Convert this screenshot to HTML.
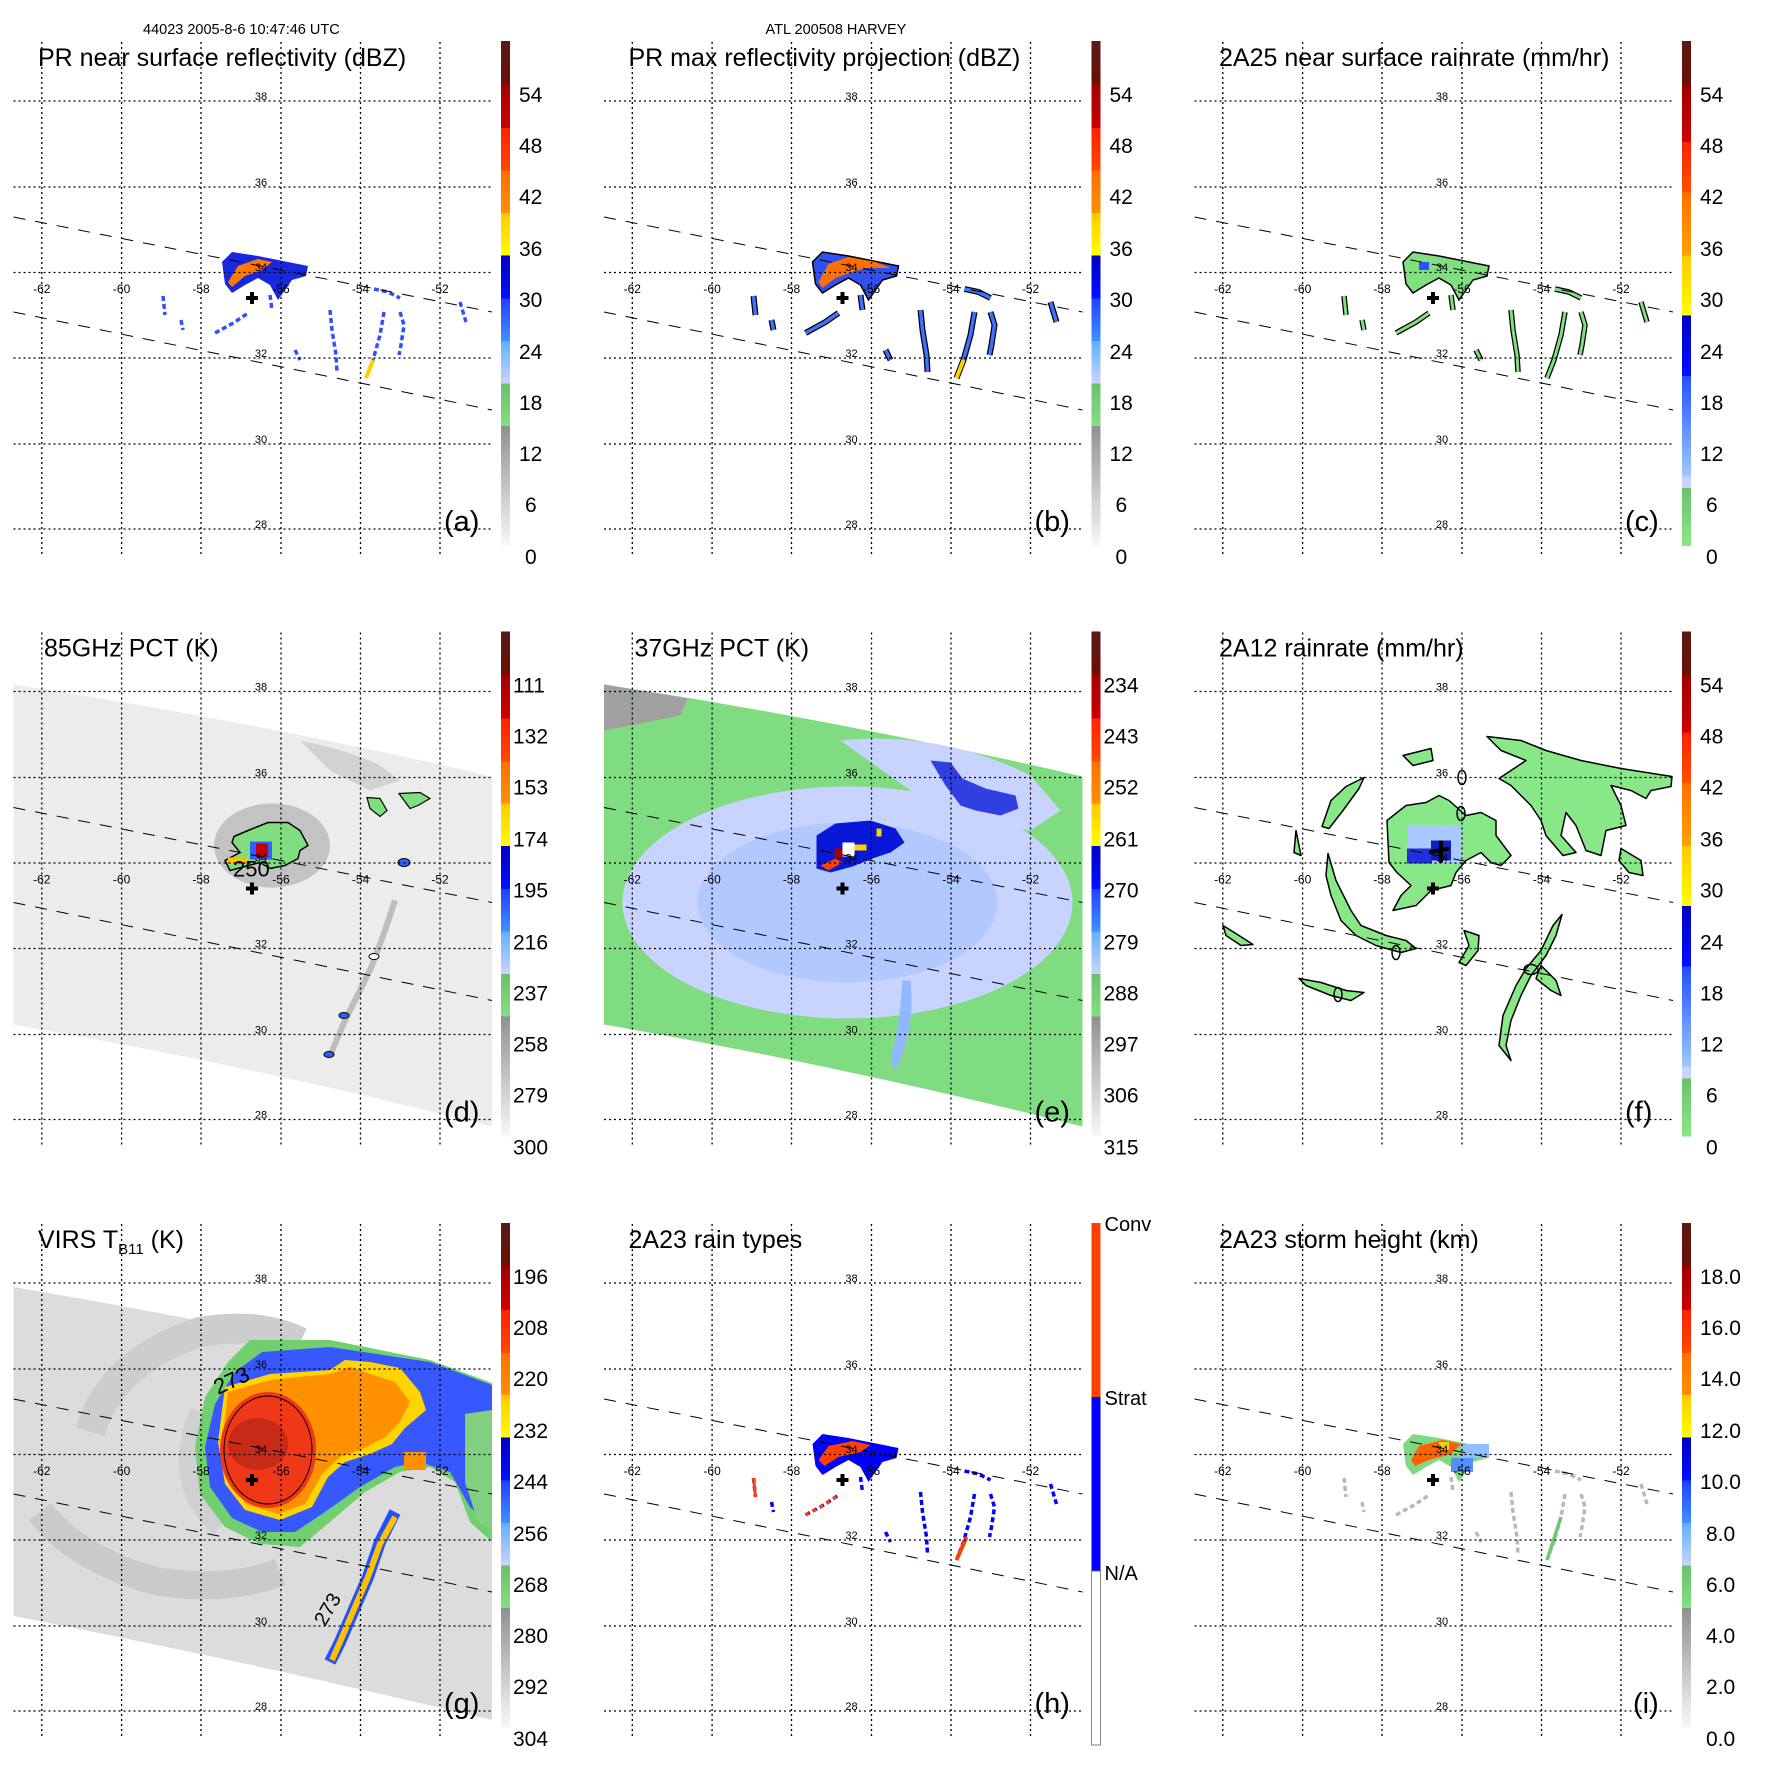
<!DOCTYPE html>
<html><head><meta charset="utf-8"><style>
html,body{margin:0;padding:0;background:#fff}
svg{display:block}
text{font-family:"Liberation Sans",Arial,sans-serif;fill:#000}
.t{font-size:25px}.c{font-size:14.5px}.cb{font-size:21px}.lt{font-size:11px;text-anchor:middle}.ln{font-size:12px;text-anchor:middle}.pl{font-size:29px}
</style></head><body>
<svg width="1771" height="1771" viewBox="0 0 1771 1771" xmlns="http://www.w3.org/2000/svg">
<defs>
<linearGradient id="gA" x1="0" y1="0" x2="0" y2="1">
<stop offset="0" stop-color="#5a1a14"/><stop offset="0.084" stop-color="#6b0f05"/>
<stop offset="0.084" stop-color="#a00000"/><stop offset="0.172" stop-color="#cc0000"/>
<stop offset="0.172" stop-color="#ff2000"/><stop offset="0.257" stop-color="#ff4800"/>
<stop offset="0.257" stop-color="#ff7000"/><stop offset="0.341" stop-color="#ff9000"/>
<stop offset="0.341" stop-color="#ffc800"/><stop offset="0.425" stop-color="#ffff00"/>
<stop offset="0.425" stop-color="#0000c0"/><stop offset="0.51" stop-color="#0010ff"/>
<stop offset="0.51" stop-color="#2040ff"/><stop offset="0.594" stop-color="#4090ff"/>
<stop offset="0.594" stop-color="#60b0ff"/><stop offset="0.678" stop-color="#c8d4ff"/>
<stop offset="0.678" stop-color="#6cc06c"/><stop offset="0.762" stop-color="#80e080"/>
<stop offset="0.762" stop-color="#909090"/><stop offset="1" stop-color="#f8f8f8"/>
</linearGradient>
<linearGradient id="gC" x1="0" y1="0" x2="0" y2="1">
<stop offset="0" stop-color="#5a1a14"/><stop offset="0.088" stop-color="#6b0f05"/>
<stop offset="0.088" stop-color="#a00000"/><stop offset="0.2" stop-color="#d00000"/>
<stop offset="0.2" stop-color="#ff2000"/><stop offset="0.3" stop-color="#ff5000"/>
<stop offset="0.3" stop-color="#ff7000"/><stop offset="0.425" stop-color="#ffa000"/>
<stop offset="0.425" stop-color="#ffc800"/><stop offset="0.544" stop-color="#ffff00"/>
<stop offset="0.544" stop-color="#0000c0"/><stop offset="0.663" stop-color="#0010ff"/>
<stop offset="0.663" stop-color="#2050ff"/><stop offset="0.862" stop-color="#a0c8ff"/>
<stop offset="0.862" stop-color="#c8d4ff"/><stop offset="0.885" stop-color="#c8d4ff"/>
<stop offset="0.885" stop-color="#6cc06c"/><stop offset="1" stop-color="#88e888"/>
</linearGradient>
<g id="grid" fill="none" stroke="#000" stroke-width="1.3" stroke-dasharray="2,3">
<path d="M41.8 42V554M121.6 42V554M201 42V554M281 42V554M360.5 42V554M440 42V554"/>
<path d="M13.5 101H492M13.5 187H492M13.5 272.5H492M13.5 358H492M13.5 444H492M13.5 529H492"/>
</g>
<g id="swl" fill="none" stroke="#000" stroke-width="1" stroke-dasharray="12,10">
<path d="M13.5 217L492 312M13.5 312L492 410"/>
</g>
<g id="plus"><path d="M246 298H258M252 292V304" stroke="#000" stroke-width="4"/></g>
<polygon id="prStorm" points="222,262 232,252 258,256 308,266 306,276 292,280 285,290 278,300 270,285 258,278 245,285 232,293 225,284"/>
<g id="prLines">
<polyline points="330,310 332,330 336,355 337,372"/>
<polyline points="384,312 380,335 373,360 366,378"/>
<polyline points="400,312 404,325 401,345 399,355"/>
<polyline points="374,289 388,292 400,298"/>
<polyline points="163,296 165,315"/>
<polyline points="181,320 183,330"/>
<polyline points="215,333 235,322 248,313"/>
<polyline points="295,350 300,360"/>
<polyline points="460,302 466,322"/>
<polyline points="270,295 272,310"/>
</g>
</defs>

<!-- ============ (a) ============ -->
<g transform="translate(0,0)">
<use href="#prLines" fill="none" stroke="#3050ff" stroke-width="3.5" stroke-dasharray="5,3"/>
<use href="#prStorm" fill="#1828e0"/>
<polygon points="228,282 238,266 258,259 272,262 262,270 245,276 232,287" fill="#ff7a00"/>
<polyline points="366,378 373,360" stroke="#ffd000" stroke-width="4"/>
<use href="#swl"/><use href="#grid"/><use href="#plus"/>
<text class="c" x="143" y="34">44023 2005-8-6 10:47:46 UTC</text>
<text class="t" x="38" y="66">PR near surface reflectivity (dBZ)</text>
<rect x="501" y="41" width="9" height="505" fill="url(#gA)"/>
<g class="cb"><text x="519" y="102">54</text><text x="519" y="153">48</text><text x="519" y="204">42</text><text x="519" y="256">36</text><text x="519" y="307">30</text><text x="519" y="359">24</text><text x="519" y="410">18</text><text x="519" y="461">12</text><text x="525" y="512">6</text><text x="525" y="564">0</text></g>
<text class="pl" x="444" y="531">(a)</text>
<g><text class="lt" x="261" y="100">38</text><text class="lt" x="261" y="186">36</text><text class="lt" x="261" y="271">34</text><text class="lt" x="261" y="357">32</text><text class="lt" x="261" y="443">30</text><text class="lt" x="261" y="528">28</text>
<text class="ln" x="41.8" y="293">-62</text><text class="ln" x="121.6" y="293">-60</text><text class="ln" x="201" y="293">-58</text><text class="ln" x="281" y="293">-56</text><text class="ln" x="360.5" y="293">-54</text><text class="ln" x="440" y="293">-52</text></g>
</g>

<!-- ============ (b) ============ -->
<g transform="translate(590.5,0)">
<use href="#prLines" fill="none" stroke="#000" stroke-width="6"/>
<use href="#prLines" fill="none" stroke="#4070ff" stroke-width="3.5"/>
<use href="#prStorm" fill="#3050f0" stroke="#000" stroke-width="1.5"/>
<polygon points="228,282 238,264 258,257 285,262 300,268 275,268 262,272 245,278 232,288" fill="#ff7000"/>
<polyline points="366,378 373,360" stroke="#ffd000" stroke-width="4"/>
<use href="#swl"/><use href="#grid"/><use href="#plus"/>
<text class="c" x="175" y="34">ATL 200508 HARVEY</text>
<text class="t" x="38" y="66">PR max reflectivity projection (dBZ)</text>
<rect x="501" y="41" width="9" height="505" fill="url(#gA)"/>
<g class="cb"><text x="519" y="102">54</text><text x="519" y="153">48</text><text x="519" y="204">42</text><text x="519" y="256">36</text><text x="519" y="307">30</text><text x="519" y="359">24</text><text x="519" y="410">18</text><text x="519" y="461">12</text><text x="525" y="512">6</text><text x="525" y="564">0</text></g>
<text class="pl" x="444" y="531">(b)</text>
<g><text class="lt" x="261" y="100">38</text><text class="lt" x="261" y="186">36</text><text class="lt" x="261" y="271">34</text><text class="lt" x="261" y="357">32</text><text class="lt" x="261" y="443">30</text><text class="lt" x="261" y="528">28</text>
<text class="ln" x="41.8" y="293">-62</text><text class="ln" x="121.6" y="293">-60</text><text class="ln" x="201" y="293">-58</text><text class="ln" x="281" y="293">-56</text><text class="ln" x="360.5" y="293">-54</text><text class="ln" x="440" y="293">-52</text></g>
</g>

<!-- ============ (c) ============ -->
<g transform="translate(1181,0)">
<use href="#prLines" fill="none" stroke="#000" stroke-width="5.5"/>
<use href="#prLines" fill="none" stroke="#80e080" stroke-width="3"/>
<use href="#prStorm" fill="#80e080" stroke="#000" stroke-width="1.5"/>
<rect x="238" y="262" width="10" height="8" fill="#3050ff"/>
<use href="#swl"/><use href="#grid"/><use href="#plus"/>
<text class="t" x="38" y="66">2A25 near surface rainrate (mm/hr)</text>
<rect x="501" y="41" width="9" height="505" fill="url(#gC)"/>
<g class="cb"><text x="519" y="102">54</text><text x="519" y="153">48</text><text x="519" y="204">42</text><text x="519" y="256">36</text><text x="519" y="307">30</text><text x="519" y="359">24</text><text x="519" y="410">18</text><text x="519" y="461">12</text><text x="525" y="512">6</text><text x="525" y="564">0</text></g>
<text class="pl" x="444" y="531">(c)</text>
<g><text class="lt" x="261" y="100">38</text><text class="lt" x="261" y="186">36</text><text class="lt" x="261" y="271">34</text><text class="lt" x="261" y="357">32</text><text class="lt" x="261" y="443">30</text><text class="lt" x="261" y="528">28</text>
<text class="ln" x="41.8" y="293">-62</text><text class="ln" x="121.6" y="293">-60</text><text class="ln" x="201" y="293">-58</text><text class="ln" x="281" y="293">-56</text><text class="ln" x="360.5" y="293">-54</text><text class="ln" x="440" y="293">-52</text></g>
</g>

<!-- ============ (d) ============ -->
<g transform="translate(0,590.5)">
<path d="M13.5 94Q250 130 492 186V536Q250 475 13.5 434Z" fill="#ececec"/>
<path d="M300 150Q350 160 380 175 L400 190 L370 200 L330 180Z" fill="#c8c8c8" opacity="0.7"/>
<polyline points="395,310 385,340 372,375 360,400 345,430 330,465" fill="none" stroke="#bdbdbd" stroke-width="6"/>
<ellipse cx="272" cy="255" rx="58" ry="42" fill="#a8a8a8" opacity="0.6"/>
<polygon points="234,246 248,240 268,232 288,232 300,240 308,255 300,260 298,268 285,275 270,278 260,272 245,276 230,280 225,270 240,262 232,252" fill="#80dd80" stroke="#000" stroke-width="1.5"/>
<rect x="250" y="251" width="22" height="18" fill="#3060ff"/>
<rect x="256" y="253" width="12" height="14" fill="#c00000"/>
<rect x="228" y="267" width="20" height="6" fill="#ffc000"/>
<polygon points="367,207 380,208 387,220 380,226 370,218" fill="#80dd80" stroke="#000" stroke-width="1.2"/>
<polygon points="399,203 420,202 430,208 418,215 410,218" fill="#80dd80" stroke="#000" stroke-width="1.2"/>
<ellipse cx="404" cy="272" rx="6" ry="4" fill="#3060ff" stroke="#000"/>
<ellipse cx="344" cy="425" rx="5" ry="3" fill="#3060ff" stroke="#000"/>
<ellipse cx="374" cy="366" rx="5" ry="3" fill="#fff" stroke="#000"/>
<ellipse cx="329" cy="464" rx="5" ry="3" fill="#3060ff" stroke="#000"/>
<text x="233" y="286" style="font-size:22px">250</text>
<use href="#swl"/><use href="#grid"/><use href="#plus"/>
<text class="t" x="44" y="66">85GHz PCT (K)</text>
<rect x="501" y="41" width="9" height="505" fill="url(#gA)"/>
<g class="cb"><text x="513" y="102">111</text><text x="513" y="153">132</text><text x="513" y="204">153</text><text x="513" y="256">174</text><text x="513" y="307">195</text><text x="513" y="359">216</text><text x="513" y="410">237</text><text x="513" y="461">258</text><text x="513" y="512">279</text><text x="513" y="564">300</text></g>
<text class="pl" x="444" y="531">(d)</text>
<g><text class="lt" x="261" y="100">38</text><text class="lt" x="261" y="186">36</text><text class="lt" x="261" y="271">34</text><text class="lt" x="261" y="357">32</text><text class="lt" x="261" y="443">30</text><text class="lt" x="261" y="528">28</text>
<text class="ln" x="41.8" y="293">-62</text><text class="ln" x="121.6" y="293">-60</text><text class="ln" x="201" y="293">-58</text><text class="ln" x="281" y="293">-56</text><text class="ln" x="360.5" y="293">-54</text><text class="ln" x="440" y="293">-52</text></g>
</g>

<!-- ============ (e) ============ -->
<g transform="translate(590.5,590.5)">
<path d="M13.5 94Q250 130 492 186V536Q250 475 13.5 434Z" fill="#80dc80"/>
<path d="M13.5 94L97 108L90 125L40 135L13.5 140Z" fill="#a0a0a0"/>
<ellipse cx="257" cy="312" rx="225" ry="116" fill="#c8d4ff"/>
<path d="M250 150Q350 140 440 185L470 220L440 240L380 230L320 200Z" fill="#c8d4ff"/>
<ellipse cx="257" cy="312" rx="150" ry="80" fill="#a8c4ff" opacity="0.7"/>
<path d="M320 390Q325 440 305 480L300 470Q310 430 312 390Z" fill="#90b8ff"/>
<polygon points="226,245 245,233 280,230 305,238 314,252 300,262 282,268 262,276 240,282 226,278" fill="#0818d8"/>
<polygon points="340,170 360,172 372,188 395,198 425,205 428,218 410,225 385,220 370,215 355,195" fill="#3040e0"/>
<rect x="252" y="252" width="12" height="14" fill="#ffffff"/>
<rect x="244" y="258" width="8" height="10" fill="#a00000"/>
<rect x="264" y="254" width="12" height="6" fill="#ffd000"/>
<polygon points="230,275 245,268 252,272 238,280" fill="#ff4000"/>
<rect x="286" y="238" width="5" height="8" fill="#ffd000"/>
<use href="#swl"/><use href="#grid"/><use href="#plus"/>
<text class="t" x="44" y="66">37GHz PCT (K)</text>
<rect x="501" y="41" width="9" height="505" fill="url(#gA)"/>
<g class="cb"><text x="513" y="102">234</text><text x="513" y="153">243</text><text x="513" y="204">252</text><text x="513" y="256">261</text><text x="513" y="307">270</text><text x="513" y="359">279</text><text x="513" y="410">288</text><text x="513" y="461">297</text><text x="513" y="512">306</text><text x="513" y="564">315</text></g>
<text class="pl" x="444" y="531">(e)</text>
<g><text class="lt" x="261" y="100">38</text><text class="lt" x="261" y="186">36</text><text class="lt" x="261" y="271">34</text><text class="lt" x="261" y="357">32</text><text class="lt" x="261" y="443">30</text><text class="lt" x="261" y="528">28</text>
<text class="ln" x="41.8" y="293">-62</text><text class="ln" x="121.6" y="293">-60</text><text class="ln" x="201" y="293">-58</text><text class="ln" x="281" y="293">-56</text><text class="ln" x="360.5" y="293">-54</text><text class="ln" x="440" y="293">-52</text></g>
</g>

<!-- ============ (f) ============ -->
<g transform="translate(1181,590.5)">
<g fill="#88e888" stroke="#000" stroke-width="1.5" stroke-linejoin="round">
<path d="M306 146L340 150L365 160L400 170L440 178L491 186L490 196L470 200L465 208L450 200L430 195L440 215L445 235L425 240L420 265L405 260L395 235L385 222L380 245L395 262L382 265L365 245L360 230L350 215L330 195L318 188L330 180L345 170L320 160Z"/>
<path d="M206 230L225 215L245 212L258 205L268 210L285 225L300 222L315 230L315 245L330 265L320 275L310 272L300 262L285 270L275 282L270 295L250 300L235 315L212 320L220 305L230 295L216 282L208 272Z"/>
<path d="M147 263L155 290L170 320L180 335L205 345L225 350L235 358L220 362L195 355L175 345L160 330L150 305L145 285Z"/>
<path d="M141 236L150 210L165 196L183 187L178 198L162 220L148 238Z"/>
<path d="M118 388L140 392L165 400L183 402L170 410L150 405L125 395Z"/>
<path d="M381 324L375 345L365 365L350 385L340 405L330 430L325 455L330 470L318 455L322 425L335 395L345 378L360 360L372 335Z"/>
<path d="M360 375L375 390L380 405L370 400L355 388Z"/>
<path d="M42 335L58 345L72 354L60 355L45 345Z"/>
<path d="M222 165L250 158L252 170L232 175Z"/>
<path d="M283 340L298 345L297 360L285 375L278 372L288 355Z"/>
<path d="M115 240L120 265L113 262Z"/>
<path d="M440 258L460 270L462 285L448 282L438 270Z"/>
</g>
<rect x="226" y="235" width="55" height="38" fill="#a8c8ff"/>
<rect x="226" y="258" width="25" height="15" fill="#2030e0"/>
<rect x="250" y="250" width="20" height="20" fill="#1020c0"/>
<path d="M248 262L268 258M260 250V272" stroke="#000" stroke-width="4"/>
<ellipse cx="281" cy="187" rx="4" ry="7" fill="none" stroke="#000" stroke-width="1.5"/>
<ellipse cx="280" cy="223" rx="4" ry="7" fill="none" stroke="#000" stroke-width="1.5"/>
<ellipse cx="215" cy="362" rx="4" ry="7" fill="none" stroke="#000" stroke-width="1.5"/>
<ellipse cx="157" cy="404" rx="4" ry="7" fill="none" stroke="#000" stroke-width="1.5"/>
<ellipse cx="350" cy="379" rx="7" ry="5" fill="none" stroke="#000" stroke-width="1.5"/>
<use href="#swl"/><use href="#grid"/><use href="#plus"/>
<text class="t" x="38" y="66">2A12 rainrate (mm/hr)</text>
<rect x="501" y="41" width="9" height="505" fill="url(#gC)"/>
<g class="cb"><text x="519" y="102">54</text><text x="519" y="153">48</text><text x="519" y="204">42</text><text x="519" y="256">36</text><text x="519" y="307">30</text><text x="519" y="359">24</text><text x="519" y="410">18</text><text x="519" y="461">12</text><text x="525" y="512">6</text><text x="525" y="564">0</text></g>
<text class="pl" x="444" y="531">(f)</text>
<g><text class="lt" x="261" y="100">38</text><text class="lt" x="261" y="186">36</text><text class="lt" x="261" y="271">34</text><text class="lt" x="261" y="357">32</text><text class="lt" x="261" y="443">30</text><text class="lt" x="261" y="528">28</text>
<text class="ln" x="41.8" y="293">-62</text><text class="ln" x="121.6" y="293">-60</text><text class="ln" x="201" y="293">-58</text><text class="ln" x="281" y="293">-56</text><text class="ln" x="360.5" y="293">-54</text><text class="ln" x="440" y="293">-52</text></g>
</g>

<!-- ============ (g) ============ -->
<g transform="translate(0,1182)">
<path d="M13.5 105Q250 145 492 201V538Q250 480 13.5 434Z" fill="#dcdcdc"/>
<path d="M90 250Q110 180 200 150Q260 140 300 160" fill="none" stroke="#cdcdcd" stroke-width="30"/>
<path d="M40 330Q80 380 160 400Q230 410 280 390" fill="none" stroke="#cacaca" stroke-width="28"/>
<path d="M200 230Q170 300 220 345" fill="none" stroke="#d0d0d0" stroke-width="20"/>
<polygon points="250,158 330,158 430,178 492,201 492,360 470,340 455,300 430,285 400,290 365,310 330,340 300,365 260,362 225,345 200,312 195,265 205,215 228,180" fill="#70d070"/>
<polygon points="262,170 330,165 430,180 492,203 492,345 470,325 450,290 420,280 395,285 360,305 325,330 295,350 262,350 232,336 210,305 205,265 215,222 235,190" fill="#3858ff"/>
<polygon points="465,232 492,228 492,348 478,340 465,300" fill="#80d080"/>
<polygon points="225,205 270,192 330,188 345,178 370,180 400,186 420,210 426,228 405,246 392,262 370,272 345,280 328,295 312,325 280,338 245,328 225,302 218,260" fill="#ffd400"/>
<polygon points="228,210 270,198 330,192 350,185 370,192 395,200 410,220 400,240 385,255 360,268 340,275 322,292 305,322 278,332 246,322 228,298 222,260" fill="#ff9000"/>
<ellipse cx="268" cy="268" rx="48" ry="58" fill="#f03818"/>
<ellipse cx="258" cy="262" rx="30" ry="26" fill="#c82a18"/>
<ellipse cx="268" cy="268" rx="44" ry="54" fill="none" stroke="#000" stroke-width="1"/>
<polyline points="395,330 380,360 368,395 355,425 340,460 330,480" fill="none" stroke="#2050ff" stroke-width="12"/>
<polyline points="395,335 380,362 368,395 355,425 340,460 332,478" fill="none" stroke="#ffc000" stroke-width="6"/>
<rect x="404" y="270" width="22" height="18" fill="#ff9000"/>
<text x="218" y="213" style="font-size:22px" transform="rotate(-25 218 213)">273</text>
<text x="325" y="445" style="font-size:20px" transform="rotate(-60 325 445)">273</text>
<use href="#swl"/><use href="#grid"/><use href="#plus"/>
<text class="t" x="38" y="66">VIRS T<tspan style="font-size:15px" dy="6">B11</tspan><tspan dy="-6"> (K)</tspan></text>
<rect x="501" y="41" width="9" height="505" fill="url(#gA)"/>
<g class="cb"><text x="513" y="102">196</text><text x="513" y="153">208</text><text x="513" y="204">220</text><text x="513" y="256">232</text><text x="513" y="307">244</text><text x="513" y="359">256</text><text x="513" y="410">268</text><text x="513" y="461">280</text><text x="513" y="512">292</text><text x="513" y="564">304</text></g>
<text class="pl" x="444" y="531">(g)</text>
<g><text class="lt" x="261" y="100">38</text><text class="lt" x="261" y="186">36</text><text class="lt" x="261" y="271">34</text><text class="lt" x="261" y="357">32</text><text class="lt" x="261" y="443">30</text><text class="lt" x="261" y="528">28</text>
<text class="ln" x="41.8" y="293">-62</text><text class="ln" x="121.6" y="293">-60</text><text class="ln" x="201" y="293">-58</text><text class="ln" x="281" y="293">-56</text><text class="ln" x="360.5" y="293">-54</text><text class="ln" x="440" y="293">-52</text></g>
</g>

<!-- ============ (h) ============ -->
<g transform="translate(590.5,1182)">
<use href="#prLines" fill="none" stroke="#0000ff" stroke-width="3.5" stroke-dasharray="5,3"/>
<polyline points="215,333 235,322 248,313" fill="none" stroke="#ff4000" stroke-width="3" stroke-dasharray="4,4"/>
<polyline points="163,296 165,315" fill="none" stroke="#ff4000" stroke-width="3"/>
<use href="#prStorm" fill="#0000ff"/>
<polygon points="228,278 238,264 262,259 280,263 270,270 248,275 234,284" fill="#ff4000"/>
<polyline points="366,378 376,355" stroke="#ff4000" stroke-width="4"/>
<use href="#swl"/><use href="#grid"/><use href="#plus"/>
<text class="t" x="38" y="66">2A23 rain types</text>
<rect x="501" y="41" width="9" height="174" fill="#ff4000"/>
<rect x="501" y="215" width="9" height="174" fill="#0000ff"/>
<rect x="501" y="389" width="9" height="174" fill="#fff" stroke="#666" stroke-width="0.8"/>
<g style="font-size:20px"><text x="514" y="49">Conv</text><text x="514" y="223">Strat</text><text x="514" y="398">N/A</text></g>
<text class="pl" x="444" y="531">(h)</text>
<g><text class="lt" x="261" y="100">38</text><text class="lt" x="261" y="186">36</text><text class="lt" x="261" y="271">34</text><text class="lt" x="261" y="357">32</text><text class="lt" x="261" y="443">30</text><text class="lt" x="261" y="528">28</text>
<text class="ln" x="41.8" y="293">-62</text><text class="ln" x="121.6" y="293">-60</text><text class="ln" x="201" y="293">-58</text><text class="ln" x="281" y="293">-56</text><text class="ln" x="360.5" y="293">-54</text><text class="ln" x="440" y="293">-52</text></g>
</g>

<!-- ============ (i) ============ -->
<g transform="translate(1181,1182)">
<use href="#prLines" fill="none" stroke="#b8b8b8" stroke-width="3.5" stroke-dasharray="5,3"/>
<polyline points="366,378 380,335" fill="none" stroke="#70c870" stroke-width="3.5"/>
<use href="#prStorm" fill="#80d880"/>
<rect x="280" y="262" width="28" height="14" fill="#90c0ff"/>
<rect x="270" y="276" width="22" height="14" fill="#5090ff"/>
<polygon points="230,278 238,264 262,258 280,262 270,272 248,278 234,284" fill="#ff6000"/>
<rect x="258" y="260" width="10" height="8" fill="#ffd000"/>
<use href="#swl"/><use href="#grid"/><use href="#plus"/>
<text class="t" x="38" y="66">2A23 storm height (km)</text>
<rect x="501" y="41" width="9" height="505" fill="url(#gA)"/>
<g class="cb"><text x="519" y="102">18.0</text><text x="519" y="153">16.0</text><text x="519" y="204">14.0</text><text x="519" y="256">12.0</text><text x="519" y="307">10.0</text><text x="525" y="359">8.0</text><text x="525" y="410">6.0</text><text x="525" y="461">4.0</text><text x="525" y="512">2.0</text><text x="525" y="564">0.0</text></g>
<text class="pl" x="452" y="531">(i)</text>
<g><text class="lt" x="261" y="100">38</text><text class="lt" x="261" y="186">36</text><text class="lt" x="261" y="271">34</text><text class="lt" x="261" y="357">32</text><text class="lt" x="261" y="443">30</text><text class="lt" x="261" y="528">28</text>
<text class="ln" x="41.8" y="293">-62</text><text class="ln" x="121.6" y="293">-60</text><text class="ln" x="201" y="293">-58</text><text class="ln" x="281" y="293">-56</text><text class="ln" x="360.5" y="293">-54</text><text class="ln" x="440" y="293">-52</text></g>
</g>
</svg>
</body></html>
